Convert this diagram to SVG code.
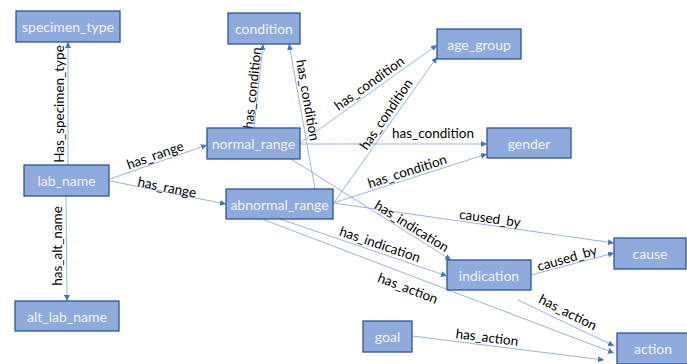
<svg xmlns="http://www.w3.org/2000/svg" width="687" height="364" viewBox="0 0 687 364">
<defs>
<style>
.node rect{fill:#8FAADC;stroke:#2F5597;stroke-width:1.3}
.node text{fill:#F2F2F2;font-family:Lato,"Liberation Sans",sans-serif;font-size:14px;text-anchor:middle;dominant-baseline:central}
.edges line{stroke:#8FAADC;stroke-width:0.9;fill:none;marker-end:url(#arr)}
.lbl{fill:#000;font-family:Lato,"Liberation Sans",sans-serif;font-size:13.5px;text-anchor:middle;dominant-baseline:central}
</style>
<marker id="arr" viewBox="0 0 10 10" refX="10" refY="5" markerWidth="6" markerHeight="6" markerUnits="userSpaceOnUse" orient="auto">
<path d="M0,0 L10,5 L0,10 z" fill="#4472C4"/>
</marker>
</defs>
<rect width="687" height="364" fill="#fff"/>
<g id="edges" class="edges">
<line x1="68" y1="165" x2="68" y2="42"/>
<line x1="66" y1="196" x2="67" y2="301"/>
<line x1="110" y1="179" x2="207" y2="145"/>
<line x1="110" y1="181" x2="226" y2="204"/>
<line x1="254" y1="128" x2="263" y2="44"/>
<line x1="315" y1="189" x2="289" y2="44"/>
<line x1="300" y1="143" x2="437" y2="45"/>
<line x1="333" y1="204" x2="437" y2="57"/>
<line x1="300" y1="144" x2="487" y2="144"/>
<line x1="333" y1="203" x2="487" y2="154"/>
<line x1="291" y1="159" x2="451" y2="260"/>
<line x1="280" y1="219" x2="447" y2="276"/>
<line x1="262" y1="219" x2="614" y2="353"/>
<line x1="333" y1="203" x2="614" y2="243"/>
<line x1="531" y1="275" x2="614" y2="253"/>
<line x1="518" y1="300" x2="614" y2="346"/>
<line x1="412" y1="336" x2="604" y2="360"/>
</g>
<g id="labels">
<text class="lbl" transform="translate(59,104) rotate(-90)">Has_specimen_type</text>
<text class="lbl" transform="translate(57,246) rotate(-90)">has_alt_name</text>
<text class="lbl" transform="translate(155,155) rotate(-19.5)">has_range</text>
<text class="lbl" transform="translate(167,187) rotate(11.3)">has_range</text>
<text class="lbl" transform="translate(252,88) rotate(-84)">has_condition</text>
<text class="lbl" transform="translate(308,100) rotate(80)">has_condition</text>
<text class="lbl" transform="translate(369,83) rotate(-35.6)">has_condition</text>
<text class="lbl" transform="translate(386,114) rotate(-55.5)">has_condition</text>
<text class="lbl" transform="translate(433,133)">has_condition</text>
<text class="lbl" transform="translate(407,171) rotate(-17.7)">has_condition</text>
<text class="lbl" transform="translate(412,226) rotate(32)">has_indication</text>
<text class="lbl" transform="translate(380,244) rotate(18.8)">has_indication</text>
<text class="lbl" transform="translate(408,288) rotate(21)">has_action</text>
<text class="lbl" transform="translate(490,218) rotate(8)">caused_by</text>
<text class="lbl" transform="translate(567,258) rotate(-16)">caused_by</text>
<text class="lbl" transform="translate(568,312) rotate(27)">has_action</text>
<text class="lbl" transform="translate(487,337) rotate(7)">has_action</text>
</g>
<g id="specimen_type" class="node"><rect x="16" y="11" width="104" height="31"/><text x="68" y="26.5">specimen_type</text></g>
<g id="lab_name" class="node"><rect x="24" y="165" width="85" height="31"/><text x="66.5" y="180.5">lab_name</text></g>
<g id="alt_lab_name" class="node"><rect x="15" y="301" width="104" height="30"/><text x="67" y="316">alt_lab_name</text></g>
<g id="condition" class="node"><rect x="228" y="13" width="72" height="31"/><text x="264" y="28.5">condition</text></g>
<g id="normal_range" class="node"><rect x="207" y="128" width="93" height="31"/><text x="253.5" y="143.5">normal_range</text></g>
<g id="age_group" class="node"><rect x="437" y="29" width="84" height="30"/><text x="479" y="44">age_group</text></g>
<g id="gender" class="node"><rect x="487" y="128" width="84" height="30"/><text x="529" y="143">gender</text></g>
<g id="abnormal_range" class="node"><rect x="226" y="189" width="107" height="30"/><text x="279.5" y="204">abnormal_range</text></g>
<g id="indication" class="node"><rect x="447" y="260" width="84" height="30"/><text x="489" y="275">indication</text></g>
<g id="cause" class="node"><rect x="614" y="238" width="72" height="31"/><text x="650" y="253.5">cause</text></g>
<g id="goal" class="node"><rect x="363" y="321" width="49" height="31"/><text x="387.5" y="336.5">goal</text></g>
<g id="action" class="node"><rect x="617" y="333" width="73" height="31"/><text x="653" y="348.5">action</text></g>
</svg>
